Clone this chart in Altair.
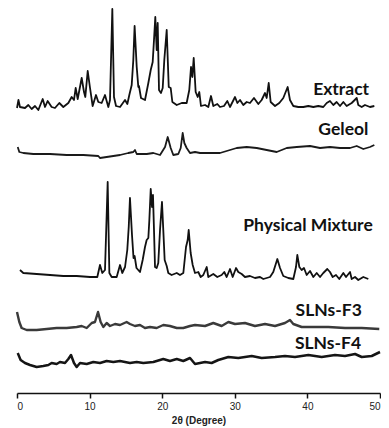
import altair as alt
import pandas as pd

# ---------------- data ----------------
samples = ["Extract", "Geleol", "Physical Mixture", "SLNs-F3", "SLNs-F4"]
offsets = [288, 238, 116, 65, 27]

tt_extract = [0.0, 0.2, 0.41, 1.1, 1.56, 2.02, 2.48, 2.94, 3.54, 3.86, 4.22, 4.77, 5.23, 5.83, 6.38,
              7.07, 7.53, 7.85, 8.08, 8.36, 8.91, 9.23, 9.41, 9.74, 10.06, 10.42, 10.88, 11.2, 11.66,
              12.12, 12.58, 12.81, 13.13, 13.36, 13.64, 14.19, 14.88, 15.2, 15.47, 15.8, 16.02, 16.2,
              16.49, 16.71, 16.8, 17.08, 17.63, 18.09, 18.42, 18.69, 18.87, 19.05, 19.24, 19.38, 19.56,
              19.83, 20.07, 20.29, 20.62, 20.9, 21.17, 21.4, 22.0, 22.69, 23.37, 23.73, 23.97, 24.15,
              24.34, 24.61, 24.89, 25.11, 25.34, 25.9, 26.35, 26.72, 27.04, 27.59, 27.96, 28.51, 28.97,
              29.34, 30.03, 30.35, 30.72, 31.17, 31.64, 32.09, 32.64, 33.24, 33.7, 34.16, 34.39, 34.67,
              34.94, 35.54, 36.13, 36.68, 37.28, 37.6, 38.06, 38.75, 39.44, 40.13, 40.82, 41.5, 42.19,
              42.66, 43.11, 43.57, 44.03, 44.49, 44.95, 45.41, 46.1, 46.79, 47.01, 47.48, 47.93, 48.62,
              49.22]
i_extract = [-3, 5, -2, -3, 0, -4, -1, -5, 6, -2, 4, -2, -3, 2, -2,
             2, 8, 5, 17, 6, 27, 13, 8, 34, 17, -1, 10, 3, 2,
             10, -2, 5, 96, 8, -1, -2, 5, 1, 10, 20, 45, 79,
             38, 18, 19, 7, 5, 22, 35, 43, 65, 88, 55, 82, 15,
             12, 17, 45, 75, 18, 17, 3, 0, 2, 2, 15, 38, 28,
             47, 13, 8, 13, -1, 0, -2, 9, -1, 1, -2, -1, 4,
             -2, 8, 2, 5, 0, 3, 2, 7, 1, 5, 12, 7, 22,
             3, -1, 2, 7, 18, 5, -1, -2, -2, -1, -2, -1, -2,
             2, 4, 0, 3, -1, 3, -1, 2, 7, 0, -2, 0, -2,
             -1]

tt_geleol = [0.1, 0.32, 0.87, 2.25, 4.55, 6.84, 9.14, 11.2, 11.43, 13.27, 14.19, 15.33, 16.02, 16.25,
             16.49, 17.87, 18.78, 19.7, 20.39, 20.76, 21.17, 21.53, 22.22, 22.55, 22.82, 23.05, 23.37,
             23.83, 24.52, 25.21, 26.58, 27.96, 28.88, 30.26, 31.64, 33.02, 34.39, 35.77, 37.15, 38.53,
             40.36, 41.74, 43.11, 44.49, 45.87, 46.79, 47.7, 48.62, 49.22]
i_geleol = [8, 3, 2, 1, 1, 0, 0, -1, -3, -1, 0, 2, 3, 5,
            1, 1, 2, 0, 8, 18, 7, 0, 1, 7, 22, 12, 7,
            2, 3, 2, 2, 2, 4, 7, 8, 7, 5, 3, 7, 8,
            9, 7, 8, 7, 7, 9, 6, 8, 10]

tt_pm = [0.41, 0.87, 2.71, 4.55, 6.38, 8.22, 10.06, 11.06, 11.43, 11.75, 12.12, 12.49, 12.72, 13.04,
         13.73, 14.19, 14.5, 14.88, 15.19, 15.39, 15.56, 15.84, 16.05, 16.2, 16.46, 16.94, 17.31, 17.63,
         17.86, 18.09, 18.23, 18.42, 18.6, 18.73, 18.87, 19.01, 19.24, 19.46, 19.7, 19.97, 20.15, 20.34,
         20.62, 20.84, 21.3, 22.0, 22.45, 22.91, 23.28, 23.51, 23.65, 23.92, 24.2, 24.52, 24.97, 25.3,
         25.66, 26.13, 26.35, 27.04, 27.59, 28.19, 28.55, 28.88, 29.34, 29.71, 30.17, 30.48, 30.95,
         31.4, 32.09, 32.78, 33.47, 33.93, 34.85, 35.3, 35.86, 36.23, 36.68, 37.37, 38.06, 38.43, 38.61,
         38.89, 39.21, 39.53, 39.9, 40.36, 40.82, 41.28, 41.74, 42.19, 42.74, 43.11, 43.48, 43.94,
         44.39, 44.95, 45.32, 45.87, 46.1, 46.56, 47.01, 47.7, 48.39]
i_pm = [7, 4, 3, 2, 1, 1, 0, 0, 12, 4, 7, 95, 4, 0,
        0, 12, 4, 10, 27, 50, 79, 42, 19, 21, 9, 5, 17, 30,
        37, 39, 57, 88, 70, 82, 47, 10, 9, 14, 47, 75, 47, 17,
        11, 4, 2, 4, 2, 4, 30, 37, 47, 24, 12, 4, 5, 0,
        2, 10, 0, 3, 0, 2, 5, 0, 8, 0, 9, 5, 3,
        0, 1, -1, 0, -2, 0, 5, 18, 9, 1, -1, -2, 10, 22,
        10, 7, 9, 2, 6, 0, 4, 0, 4, 8, 5, 0, 2,
        -2, 4, 0, 5, -2, 0, -3, 0, -2]

tt_f3 = [0.0, 0.32, 0.64, 1.33, 2.71, 4.09, 5.46, 6.84, 8.22, 8.91, 9.6, 10.29, 10.74, 11.16, 11.52,
         11.89, 12.35, 12.81, 13.5, 14.19, 15.1, 15.56, 16.25, 16.94, 17.63, 18.32, 19.24, 20.15,
         21.07, 22.0, 22.91, 23.83, 24.52, 25.9, 27.04, 28.19, 29.11, 30.03, 31.4, 32.78, 34.16,
         35.54, 36.91, 37.6, 38.06, 39.21, 41.05, 42.88, 45.18, 47.48, 49.9]
i_f3 = [16, 6, 0, -2, -2, -1, 0, 0, 1, 2, 0, 5, 6, 16, 6,
        1, 5, 2, 4, 3, 6, 4, 2, 3, 0, 1, 0, 3,
        2, 0, 0, 2, 3, 2, 5, 2, 6, 4, 5, 2, 4,
        2, 5, 8, 4, 1, 1, 1, 0, 0, -1]

tt_f4 = [0.1, 0.5, 1.1, 1.79, 2.71, 3.62, 4.32, 4.77, 5.46, 5.92, 6.61, 7.07, 7.44, 7.85, 8.22,
         8.68, 9.6, 10.51, 11.43, 12.35, 13.27, 14.19, 15.56, 16.49, 17.4, 18.78, 20.15, 21.07,
         22.0, 22.91, 23.83, 24.52, 25.9, 26.81, 27.73, 29.11, 30.48, 32.33, 33.7, 35.54, 36.91,
         38.29, 40.13, 41.97, 43.8, 45.18, 46.56, 47.48, 48.86, 50.0]
i_f4 = [13, 6, 3, 1, -1, 0, 1, 3, 2, 4, 3, 7, 11, 3, -1,
        3, 2, 4, 3, 5, 4, 5, 3, 4, 3, 4, 7, 5,
        7, 5, 8, 2, 4, 3, 6, 9, 8, 10, 8, 9, 10,
        9, 11, 9, 11, 10, 12, 9, 10, 14]

label_x = [48.5, 48.4, 49.0, 47.5, 47.4]
label_y = [303, 263, 167, 82, 49]

tick_values = [0, 10, 20, 30, 40, 50]

# ---------------- build tables ----------------
series = [(tt_extract, i_extract), (tt_geleol, i_geleol), (tt_pm, i_pm), (tt_f3, i_f3), (tt_f4, i_f4)]
widths = [1.8, 1.8, 1.8, 2.4, 2.5]
colors = ["#111111", "#1a1a1a", "#111111", "#3a3a3a", "#151515"]
rows = []
for name, off, (tt, ii), w, c in zip(samples, offsets, series, widths, colors):
    for k, (t, v) in enumerate(zip(tt, ii)):
        rows.append({"sample": name, "tt": t, "y": off + v, "k": k, "w": w, "c": c})
df = pd.DataFrame(rows)
labels = pd.DataFrame({"sample": samples, "x": label_x, "y": label_y})

xscale = alt.Scale(domain=[0, 50], nice=False)
yscale = alt.Scale(domain=[0, 385], nice=False, zero=False)

lines = alt.Chart(df).mark_line(strokeJoin="round", clip=False).encode(
    x=alt.X("tt:Q", scale=xscale,
            axis=alt.Axis(values=tick_values, title="2θ (Degree)", grid=False,
                          labelFont="Liberation Sans", labelFontSize=10, labelColor="#222222",
                          labelPadding=3, tickSize=5, tickWidth=1.5, tickColor="#111111",
                          domainColor="#111111", domainWidth=1.6,
                          titleFont="Liberation Sans", titleFontSize=10, titleFontWeight="bold",
                          titleColor="#222222", titlePadding=4)),
    y=alt.Y("y:Q", scale=yscale, axis=None),
    detail="sample:N",
    order="k:Q",
    strokeWidth=alt.StrokeWidth("w:Q", scale=None),
    color=alt.Color("c:N", scale=None),
)

texts = alt.Chart(labels).mark_text(
    align="right", baseline="middle", font="Lato", fontWeight="bold", fontSize=17.5, color="#111111"
).encode(
    x=alt.X("x:Q", scale=xscale),
    y=alt.Y("y:Q", scale=yscale),
    text="sample:N",
)

chart = alt.layer(lines, texts).properties(
    width=363, height=385,
    autosize=alt.AutoSizeParams(type="none"),
    padding={"left": 9, "top": 0, "right": 1, "bottom": 33},
).configure_view(stroke=None)

chart.save("out.html", embed_options={"renderer": "svg", "actions": False})
